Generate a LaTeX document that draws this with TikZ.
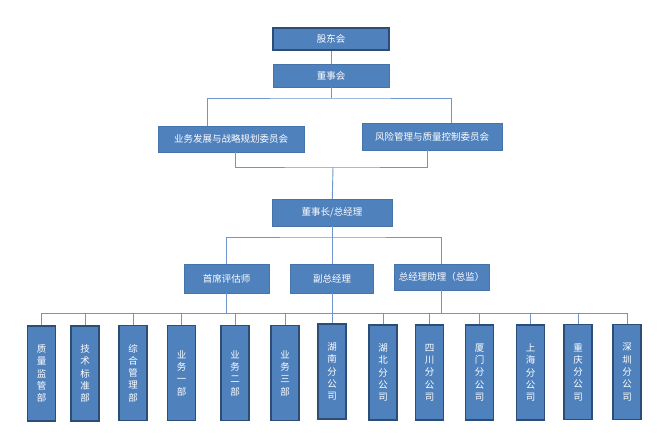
\documentclass[tikz,border=0pt]{standalone}
\usepackage{fontspec}
\newfontfamily\cjk{Noto Sans CJK SC}
\definecolor{boxfill}{RGB}{79,129,189}
\definecolor{boxline}{RGB}{70,115,170}
\definecolor{deptline}{RGB}{44,77,117}
\definecolor{linkblue}{RGB}{110,150,205}

\begin{document}
\begin{tikzpicture}[x=1pt,y=-1pt,
    box/.style ={rectangle, draw=boxline, line width=0.5pt, fill=boxfill, text=white, inner sep=0pt, font=\cjk\fontsize{9.5}{12.3}\selectfont},
    dept/.style ={box, draw=deptline, line width=1.2pt, minimum width=28pt, minimum height=95pt, align=center},
    link/.style ={draw=linkblue, line width=0.9pt}]
   \useasboundingbox (0,0) rectangle (667,445);
   \node[box, draw=deptline, line width=1.8pt, minimum width=116pt, minimum height=22pt] (G) at (331,39) {股东会};
   \node[box, minimum width=116pt, minimum height=23pt] (D) at (331,75.5) {董事会};
   \node[box, minimum width=146pt, minimum height=26pt] (W1) at (231,139) {业务发展与战略规划委员会};
   \node[box, minimum width=140pt, minimum height=27pt] (W2) at (432,136.5) {风险管理与质量控制委员会};
   \node[box, minimum width=120pt, minimum height=27pt] (Z) at (332,212.5) {董事长/总经理};
   \node[box, minimum width=85pt, minimum height=29pt] (S) at (226.5,278.5) {首席评估师};
   \node[box, minimum width=83pt, minimum height=29pt] (F) at (332,278.5) {副总经理};
   \node[box, minimum width=95pt, minimum height=26pt] (L) at (441.5,277) {总经理助理（总监）};
   \node[dept] (B1) at (41.5,373.5) {质\\量\\监\\管\\部};
   \node[dept] (B2) at (85,373.5) {技\\术\\标\\准\\部};
   \node[dept] (B3) at (133,373) {综\\合\\管\\理\\部};
   \node[dept] (B4) at (181.5,373) {业\\务\\一\\部};
   \node[dept] (B5) at (235,373) {业\\务\\二\\部};
   \node[dept] (B6) at (285,373) {业\\务\\三\\部};
   \node[dept] (B7) at (332,371.5) {湖\\南\\分\\公\\司};
   \node[dept] (B8) at (383,372.5) {湖\\北\\分\\公\\司};
   \node[dept] (B9) at (429.5,372.5) {四\\川\\分\\公\\司};
   \node[dept] (B10) at (479.5,372.5) {厦\\门\\分\\公\\司};
   \node[dept] (B11) at (530.5,372.5) {上\\海\\分\\公\\司};
   \node[dept] (B12) at (578,372) {重\\庆\\分\\公\\司};
   \node[dept] (B13) at (627,372) {深\\圳\\分\\公\\司};
   \coordinate (J1) at (331,98);
   \coordinate (J2) at (333,167);
   \coordinate (J3) at (332,237);
   \coordinate (Bus) at (41.5,313);
   \coordinate (BusEnd) at (627,313);
   \draw[link] (G) -- (D);
   \draw[link] (D) -- (J1);
   \draw[link] ([xshift=-24pt]W1.north) |- (J1) -| ([xshift=19pt]W2.north);
   \draw[link] ([xshift=4pt]W1.south) |- (J2) -| ([xshift=-5pt]W2.south);
   \draw[link] (J2) -- (Z);
   \draw[link] (Z) -- (J3);
   \draw[link] (S.north) |- (J3) -| (L.north);
   \draw[link] (F) -- (J3);
   \draw[link] (Bus) -- (BusEnd);
   \draw[link] (S) -- (S |- Bus);
   \draw[link] (F) -- (F |- Bus);
   \draw[link] (L) -- (L |- Bus);
   \draw[link] (B1) -- (B1 |- Bus);
   \draw[link] (B2) -- (B2 |- Bus);
   \draw[link] (B3) -- (B3 |- Bus);
   \draw[link] (B4) -- (B4 |- Bus);
   \draw[link] (B5) -- (B5 |- Bus);
   \draw[link] (B6) -- (B6 |- Bus);
   \draw[link] (B7) -- (B7 |- Bus);
   \draw[link] (B8) -- (B8 |- Bus);
   \draw[link] (B9) -- (B9 |- Bus);
   \draw[link] (B10) -- (B10 |- Bus);
   \draw[link] (B11) -- (B11 |- Bus);
   \draw[link] (B12) -- (B12 |- Bus);
   \draw[link] (B13) -- (B13 |- Bus);
 \end{tikzpicture}
\end{document}
